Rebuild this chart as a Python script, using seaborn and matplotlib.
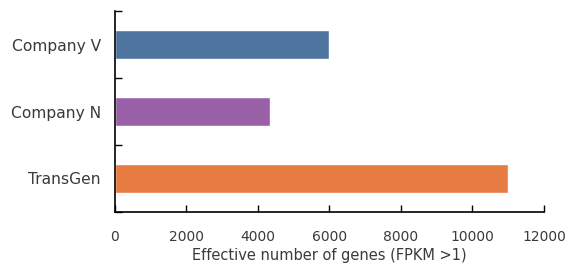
import matplotlib
matplotlib.use("Agg")
import matplotlib.pyplot as plt
import seaborn as sns
import pandas as pd
from matplotlib.ticker import FixedLocator, NullFormatter

categories = ["Company V", "Company N", "TransGen"]
values = [6000, 4330, 11000]
colors = ["#4E75A0", "#9960A8", "#E77C43"]
xticks = [0, 2000, 4000, 6000, 8000, 10000, 12000]
xlabel = "Effective number of genes (FPKM >1)"

sns.set_style("white", {"xtick.bottom": True, "ytick.left": True,
                        "xtick.direction": "in", "ytick.direction": "in"})
plt.rcParams["font.family"] = ["DejaVu Sans"]

df = pd.DataFrame({"cat": categories, "val": values})

fig = plt.figure(figsize=(5.77, 2.69), dpi=100)
ax = fig.add_axes([0.1993, 0.2119, 0.7435, 0.7472])
sns.barplot(data=df, y="cat", x="val", hue="cat", palette=colors, order=categories,
            hue_order=categories, orient="h", width=0.42, legend=False, ax=ax,
            saturation=1)

tc = "#3a3a3a"
ax.set_xlim(0, 12000)
ax.set_ylim(2.5, -0.5)
ax.set_xticks(xticks)
ax.set_xticklabels([str(t) for t in xticks], fontsize=10, color=tc)
ax.tick_params(axis="x", which="major", bottom=True, direction="in", length=5, width=1,
               pad=13, color="black")

ax.yaxis.set_major_locator(FixedLocator([-0.5, 0.5, 1.5, 2.5]))
ax.yaxis.set_major_formatter(NullFormatter())
ax.yaxis.set_minor_locator(FixedLocator([0, 1, 2]))
ax.set_yticklabels(categories, minor=True, fontsize=11.2, color=tc)
ax.tick_params(axis="y", which="major", left=True, direction="in", length=5, width=1,
               color="black")
ax.tick_params(axis="y", which="minor", left=True, length=0, pad=10)

ax.set_xlabel(xlabel, fontsize=10.5, color=tc, labelpad=3)
ax.set_ylabel("")
for s in ["top", "right"]:
    ax.spines[s].set_visible(False)
for s in ["left", "bottom"]:
    ax.spines[s].set_visible(True)
    ax.spines[s].set_color("black")
    ax.spines[s].set_linewidth(1.2)

fig.savefig("out.png", dpi=100)
